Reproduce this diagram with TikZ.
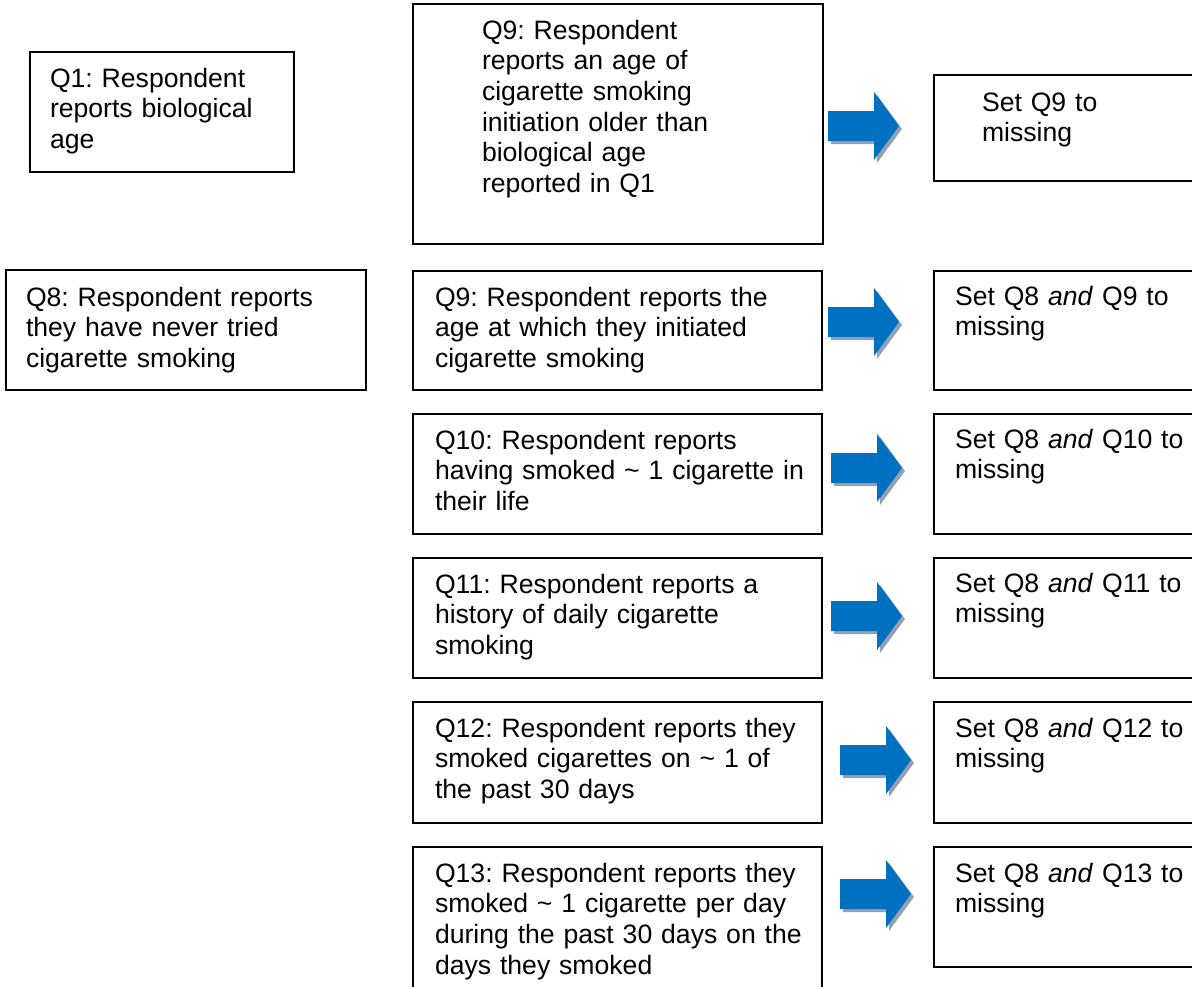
\documentclass[tikz,border=0pt]{standalone}
\usepackage{fontspec}
\setmainfont{Liberation Sans}
\frenchspacing
\definecolor{arrowblue}{HTML}{0070C0}
\definecolor{arrowshade}{RGB}{150,160,180}
\tikzset{
  box/.style={draw=black, line width=1.5pt, fill=none, inner sep=0pt, outer sep=0pt, anchor=north west},
  txt/.style={inner sep=0pt, outer sep=0pt, anchor=base west, align=left, text width=420pt,
              font=\fontsize{26.6}{30.7}\selectfont\frenchspacing},
  bluearrow/.style={fill=arrowblue, draw=none},
  arrowshadow/.style={fill=arrowshade, draw=none}
}
\newcommand{\flowarrow}[3]{% name, shaft-left x, centre y
  \coordinate (#1) at (#2,#3);
  \fill[arrowshadow] ([shift={(3,3)}]#1) ++(0,-15) -- ++(46,0) -- ++(0,-19) -- ++(25,34) -- ++(-25,34) -- ++(0,-19) -- ++(-46,0) -- cycle;
  \fill[bluearrow] (#1) ++(0,-15) -- ++(46,0) -- ++(0,-19) -- ++(25,34) -- ++(-25,34) -- ++(0,-19) -- ++(-46,0) -- cycle;
}
\begin{document}
\begin{tikzpicture}[x=1pt,y=-1pt]
\useasboundingbox (0,0) rectangle (1192,986);
% boxes
\node[box, minimum width=264pt, minimum height=120pt] (q1)  at (30,52)  {};
\node[box, minimum width=410pt, minimum height=240pt] (q9a) at (413,4)  {};
\node[box, minimum width=262pt, minimum height=106pt] (s9)  at (934,75) {};
\node[box, minimum width=360pt, minimum height=120pt] (q8)  at (6,270)  {};
\node[box, minimum width=409pt, minimum height=119pt] (q9b) at (413,271) {};
\node[box, minimum width=262pt, minimum height=119pt] (s9b) at (934,271) {};
\node[box, minimum width=409pt, minimum height=120pt] (q10) at (413,414) {};
\node[box, minimum width=262pt, minimum height=120pt] (s10) at (934,414) {};
\node[box, minimum width=409pt, minimum height=120pt] (q11) at (413,558) {};
\node[box, minimum width=262pt, minimum height=120pt] (s11) at (934,558) {};
\node[box, minimum width=409pt, minimum height=121pt] (q12) at (413,702) {};
\node[box, minimum width=262pt, minimum height=121pt] (s12) at (934,702) {};
\node[box, minimum width=409pt, minimum height=150pt] (q13) at (413,847) {};
\node[box, minimum width=262pt, minimum height=120pt] (s13) at (934,847) {};
% texts
\node[txt] (tq1)  at (50,87)   {Q1: Respondent\\reports biological\\age};
\node[txt] (tq9a) at (482,39)  {Q9: Respondent\\reports an age of\\cigarette smoking\\initiation older than\\biological age\\reported in Q1};
\node[txt] (ts9)  at (982,111) {Set Q9 to\\missing};
\node[txt] (tq8)  at (26,306)  {Q8: Respondent reports\\they have never tried\\cigarette smoking};
\node[txt] (tq9b) at (435,306) {Q9: Respondent reports the\\age at which they initiated\\cigarette smoking};
\node[txt] (ts9b) at (955,305) {Set Q8 \textit{and} Q9 to\\missing};
\node[txt] (tq10) at (435,449) {Q10: Respondent reports\\having smoked \textasciitilde{} 1 cigarette in\\their life};
\node[txt] (ts10) at (955,448) {Set Q8 \textit{and} Q10 to\\missing};
\node[txt] (tq11) at (435,593) {Q11: Respondent reports a\\history of daily cigarette\\smoking};
\node[txt] (ts11) at (955,592) {Set Q8 \textit{and} Q11 to\\missing};
\node[txt] (tq12) at (435,737) {Q12: Respondent reports they\\smoked cigarettes on \textasciitilde{} 1 of\\the past 30 days};
\node[txt] (ts12) at (955,737) {Set Q8 \textit{and} Q12 to\\missing};
\node[txt] (tq13) at (435,882) {Q13: Respondent reports they\\smoked \textasciitilde{} 1 cigarette per day\\during the past 30 days on the\\days they smoked};
\node[txt] (ts13) at (955,882) {Set Q8 \textit{and} Q13 to\\missing};
% arrows
\flowarrow{a1}{828}{126}
\flowarrow{a2}{828}{322}
\flowarrow{a3}{831}{468}
\flowarrow{a4}{831}{616}
\flowarrow{a5}{840}{760}
\flowarrow{a6}{840}{894}
\end{tikzpicture}
\end{document}
